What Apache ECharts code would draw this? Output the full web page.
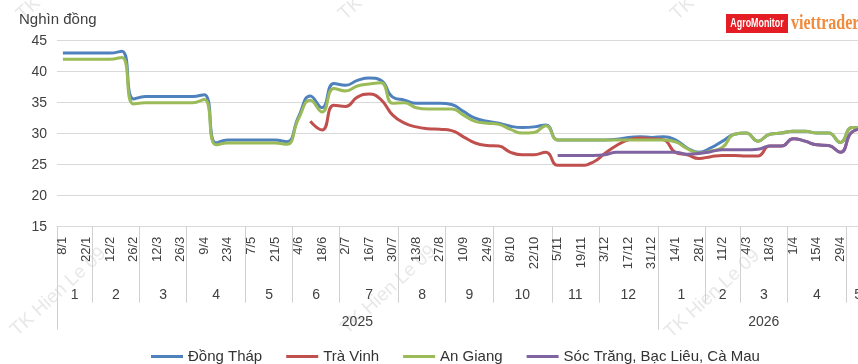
<!DOCTYPE html>
<html>
<head>
<meta charset="utf-8">
<script src="https://cdn.jsdelivr.net/npm/echarts@6/dist/echarts.min.js"></script>
<style>
  html, body { margin: 0; padding: 0; background: #ffffff; }
  #chart { width: 858px; height: 364px; }
</style>
</head>
<body>
<div id="chart"></div>
<script>
// Weekly price dates (Wednesdays), 2025 through May 2026
const weekDates = [
  '8/1','15/1','22/1','5/2','12/2','19/2','26/2','5/3','12/3','19/3','26/3',
  '2/4','9/4','16/4','23/4','30/4','7/5','14/5','21/5','28/5','4/6','11/6','18/6','25/6',
  '2/7','9/7','16/7','23/7','30/7','6/8','13/8','20/8','27/8','3/9','10/9','17/9','24/9',
  '1/10','8/10','15/10','22/10','29/10','5/11','12/11','19/11','26/11',
  '3/12','10/12','17/12','24/12','31/12',
  '7/1','14/1','21/1','28/1','4/2','11/2','25/2','4/3','11/3','18/3','25/3',
  '1/4','8/4','15/4','22/4','29/4','6/5','13/5'
];

// Month groups of the axis (label, number of weeks)
const monthLabels = ['1','2','3','4','5','6','7','8','9','10','11','12','1','2','3','4','5'];
const monthWeeks  = [3, 4, 4, 5, 4, 4, 5, 4, 4, 5, 4, 5, 4, 3, 4, 5, 2];

// Year groups of the axis
const yearLabels = ['2025', '2026'];
const yearWeeks  = [51, 18];

// Prices, thousand VND
const dongThap = [
  43, 43, 43, 43, 43, 43.3, 35.6, 36, 36, 36, 36, 36, 36.3, 28.5, 29, 29, 29, 29, 29, 28.7,
  32.7, 36.1, 34.2, 38.1, 37.8, 38.6, 39.0, 38.6, 35.9, 35.4, 34.9, 34.9, 34.9, 34.7, 33.6,
  32.5, 32.0, 31.7, 31.2, 31.0, 31.1, 31.4, 29.0, 29, 29, 29, 29, 29.1, 29.4, 29.5, 29.4,
  29.5, 29.0, 27.7, 27.0, 27.7, 28.8, 29.9, 30.1, 28.8, 29.9, 30.1, 30.4, 30.4, 30.1, 30.1,
  28.6, 31.0, 30.9
];
const traVinh = [
  null, null, null, null, null, null, null, null, null, null, null, null, null, null, null,
  null, null, null, null, null, null,
  32.0, 30.6, 34.6, 34.4, 35.9, 36.4, 35.5, 33.0, 31.7, 31.1, 30.8, 30.7, 30.5, 29.5, 28.5,
  28.1, 28.0, 27.0, 26.6, 26.6, 27.0, 24.9, 24.9, 24.9, 25.4, 26.8, 28.1, 29.0, 29.3, 29.2,
  29.0, 27.0, 26.6, 26.0, 26.3, 26.5, 26.5, 26.4, 26.4, 28.0, 28.0, 29.2, 28.8, 28.2, 28.1,
  27.0, 30.3, 30.8
];
const anGiang = [
  42, 42, 42, 42, 42, 42.3, 34.8, 35, 35, 35, 35, 35, 35.5, 28.2, 28.5, 28.5, 28.5, 28.5, 28.5,
  28.3, 32.4, 35.4, 33.5, 37.3, 36.9, 37.7, 38.0, 38.2, 34.9, 35.0, 34.2, 34.0, 34.0, 34.0,
  33.0, 32.0, 31.7, 31.5, 30.7, 30.1, 30.2, 31.3, 29.0, 29, 29, 29, 29, 29, 29, 29, 29, 29,
  28.7, 27.6, 26.9, 27.2, 27.8, 29.9, 30.1, 28.8, 29.9, 30.1, 30.4, 30.4, 30.1, 30.1, 28.6,
  31.0, 30.9
];
const socTrang = [
  null, null, null, null, null, null, null, null, null, null, null, null, null, null, null,
  null, null, null, null, null, null, null, null, null, null, null, null, null, null, null,
  null, null, null, null, null, null, null, null, null, null, null, null,
  26.5, 26.5, 26.5, 26.5, 26.6, 27.0, 27.0, 27.0, 27.0, 27.0, 27.0, 26.7, 26.8, 27.1, 27.4,
  27.4, 27.4, 27.5, 28.0, 28.0, 29.2, 28.8, 28.2, 28.1, 27.0, 30.3, 30.8
];

const seriesNames = ['Đồng Tháp', 'Trà Vinh', 'An Giang', 'Sóc Trăng, Bạc Liêu, Cà Mau'];
const seriesData = [dongThap, traVinh, anGiang, socTrang];
const seriesColors = ['#4f81bd', '#c0504d', '#9bbb59', '#8064a2'];

const yMin = 15, yMax = 45, yStep = 5;

// Group boundaries and centres in week units along the category axis
function groupLayout(sizes) {
  const bounds = [0], centers = [];
  let acc = 0;
  sizes.forEach(n => { centers.push(acc + n / 2); acc += n; bounds.push(acc); });
  return { bounds, centers };
}
const months = groupLayout(monthWeeks);
const years = groupLayout(yearWeeks);
function labelAt(centers, labels, v) {
  let best = 0;
  centers.forEach((c, i) => { if (Math.abs(c - v) < Math.abs(centers[best] - v)) best = i; });
  return labels[best];
}

const FONT = "'Liberation Sans', Arial, sans-serif";
const TEXT = '#404040';
const GRID_LINE = '#d9d9d9';
const DIVIDER = '#d0d0d0';
const weekPx = 11.78;

const chart = echarts.init(document.getElementById('chart'), null, { renderer: 'canvas' });

// Faint diagonal watermark texts
const watermarkSpots = [[20, 340], [350, 338], [674, 342], [26, 24], [348, 24], [680, 24]];
const watermarks = watermarkSpots.map(p => ({
  type: 'text', x: p[0], y: p[1], rotation: 0.74, silent: true, z: 0,
  style: { text: 'TK Hien Le 09', font: '19px ' + FONT, fill: '#e8e8e8', textVerticalAlign: 'bottom' }
}));

chart.setOption({
  animation: false,
  backgroundColor: '#ffffff',
  textStyle: { fontFamily: FONT },
  grid: {
    left: 57, top: 40.7, height: 186, width: weekDates.length * weekPx,
    containLabel: false, outerBoundsMode: 'none'
  },
  legend: {
    left: 146, top: 344,
    icon: 'rect', itemWidth: 32, itemHeight: 3, itemGap: 24,
    textStyle: { fontFamily: FONT, fontSize: 15, color: '#333333' },
    data: seriesNames
  },
  xAxis: [
    {
      type: 'category', data: weekDates, boundaryGap: true, position: 'bottom',
      axisLine: { show: true, lineStyle: { color: GRID_LINE, width: 1 } },
      axisTick: { show: false },
      axisLabel: { interval: 1, rotate: 90, margin: 10, fontSize: 13, color: TEXT, fontFamily: FONT }
    },
    {
      type: 'value', min: 0, max: weekDates.length, position: 'bottom',
      axisLine: { show: false }, splitLine: { show: false },
      axisTick: { show: true, customValues: months.bounds, length: 76, lineStyle: { color: DIVIDER } },
      axisLabel: {
        customValues: months.centers, margin: 61, fontSize: 14, color: TEXT, fontFamily: FONT,
        formatter: v => labelAt(months.centers, monthLabels, v)
      }
    },
    {
      type: 'value', min: 0, max: weekDates.length, position: 'bottom',
      axisLine: { show: false }, splitLine: { show: false },
      axisTick: { show: true, customValues: years.bounds, length: 103, lineStyle: { color: DIVIDER } },
      axisLabel: {
        customValues: years.centers, margin: 88, fontSize: 14, color: TEXT, fontFamily: FONT,
        formatter: v => labelAt(years.centers, yearLabels, v)
      }
    }
  ],
  yAxis: {
    type: 'value', min: yMin, max: yMax, interval: yStep,
    axisLine: { show: false }, axisTick: { show: false },
    splitLine: { lineStyle: { color: GRID_LINE, width: 1 } },
    axisLabel: { margin: 10, fontSize: 14, color: TEXT, fontFamily: FONT }
  },
  series: seriesNames.map((name, i) => ({
    name, type: 'line', xAxisIndex: 0, data: seriesData[i],
    smooth: 0.5, symbol: 'none', connectNulls: false,
    lineStyle: { width: 3, color: seriesColors[i] },
    itemStyle: { color: seriesColors[i] },
    z: 2 + i
  })),
  graphic: [
    ...watermarks,
    {
      type: 'text', left: 19, top: 12,
      style: { text: 'Nghìn đồng', font: '15px ' + FONT, fill: TEXT }
    },
    {
      type: 'rect', shape: { x: 726, y: 14, width: 62, height: 19 },
      style: { fill: '#e31d23' }
    },
    {
      type: 'text', x: 757, y: 23.5, scaleX: 0.74,
      style: { text: 'AgroMonitor', font: 'bold 12px ' + FONT, fill: '#ffffff',
               textAlign: 'center', textVerticalAlign: 'middle' }
    },
    {
      type: 'text', x: 791, y: 24, scaleX: 0.8,
      style: { text: 'viettrader', font: "bold 20px 'Liberation Serif', serif", fill: '#f08a3c',
               textAlign: 'left', textVerticalAlign: 'middle' }
    }
  ]
});
</script>
</body>
</html>
